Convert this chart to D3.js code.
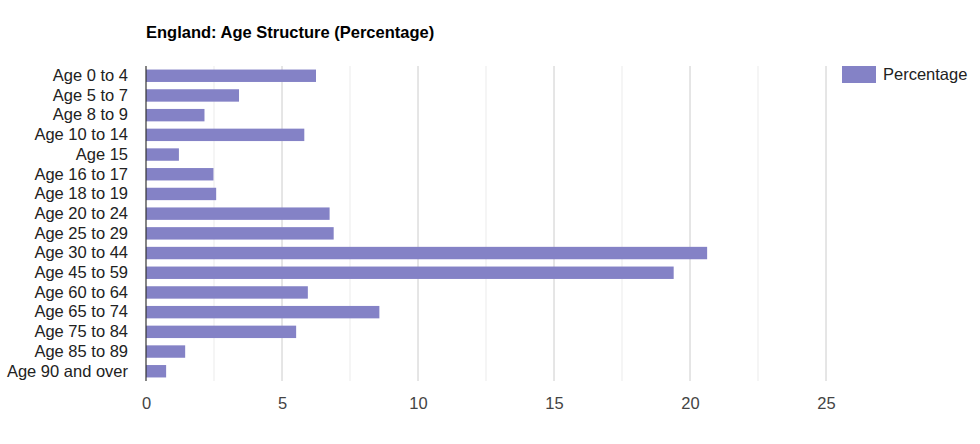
<!DOCTYPE html>
<html>
<head>
<meta charset="utf-8">
<script src="https://cdn.jsdelivr.net/npm/d3@7"></script>
<style>
  body { margin: 0; background: #fff; }
  text { font-family: "Liberation Sans", Arial, sans-serif; }
</style>
</head>
<body>
<div class="chart"></div>
<script>
var categories = ["Age 0 to 4", "Age 5 to 7", "Age 8 to 9", "Age 10 to 14", "Age 15",
  "Age 16 to 17", "Age 18 to 19", "Age 20 to 24", "Age 25 to 29", "Age 30 to 44",
  "Age 45 to 59", "Age 60 to 64", "Age 65 to 74", "Age 75 to 84", "Age 85 to 89",
  "Age 90 and over"];
var percentage = [6.25, 3.42, 2.15, 5.82, 1.21, 2.48, 2.58, 6.75, 6.9, 20.63,
  19.4, 5.95, 8.58, 5.52, 1.44, 0.74];
var ticks = [0, 5, 10, 15, 20, 25];
var minorTicks = [2.5, 7.5, 12.5, 17.5, 22.5];

var w = 980, h = 444;
var mLeft = 146, mRight = 826, mTop = 66, mBottom = 381;
var fs = 16.5;

var svg = d3.select(".chart").append("svg")
  .attr("width", w)
  .attr("height", h);

var x = d3.scaleLinear().domain([0, 25]).range([mLeft, mRight]);
var y = d3.scaleBand().domain(categories).range([mTop, mBottom]).paddingInner(0.37).paddingOuter(0.18);

// title
svg.append("text")
  .attr("x", mLeft)
  .attr("y", 38)
  .attr("font-size", fs)
  .attr("font-weight", "bold")
  .attr("fill", "#000")
  .text("England: Age Structure (Percentage)");

// gridlines
svg.selectAll(".minor").data(minorTicks).enter().append("line")
  .attr("x1", function(d) { return x(d); })
  .attr("x2", function(d) { return x(d); })
  .attr("y1", mTop).attr("y2", mBottom)
  .attr("stroke", "#ebebeb").attr("stroke-width", 1);

svg.selectAll(".major").data(ticks.slice(1)).enter().append("line")
  .attr("x1", function(d) { return x(d); })
  .attr("x2", function(d) { return x(d); })
  .attr("y1", mTop).attr("y2", mBottom)
  .attr("stroke", "#cccccc").attr("stroke-width", 1);

// bars
svg.selectAll("rect.bar").data(percentage).enter().append("rect")
  .attr("class", "bar")
  .attr("x", x(0))
  .attr("y", function(d, i) { return y(categories[i]); })
  .attr("width", function(d) { return x(d) - x(0); })
  .attr("height", y.bandwidth())
  .attr("fill", "#8482c6");

// baseline
svg.append("line")
  .attr("x1", x(0)).attr("x2", x(0))
  .attr("y1", mTop).attr("y2", mBottom)
  .attr("stroke", "#333").attr("stroke-width", 1.2);

// x axis labels
var xAxis = d3.axisBottom(x).tickValues(ticks).tickSize(0).tickPadding(0);
var gx = svg.append("g").attr("transform", "translate(0," + 397 + ")").call(xAxis);
gx.select(".domain").remove();
gx.selectAll("text")
  .attr("font-size", fs)
  .attr("font-family", "'Liberation Sans', Arial, sans-serif")
  .attr("fill", "#444")
  .attr("dy", "0.71em");

// y axis labels
var yAxis = d3.axisLeft(y).tickSize(0).tickPadding(18);
var gy = svg.append("g").attr("transform", "translate(" + mLeft + ",0)").call(yAxis);
gy.select(".domain").remove();
gy.selectAll("text")
  .attr("font-size", fs)
  .attr("font-family", "'Liberation Sans', Arial, sans-serif")
  .attr("fill", "#222");

// legend
svg.append("rect")
  .attr("x", 842).attr("y", 66)
  .attr("width", 34).attr("height", 17)
  .attr("fill", "#8482c6");
svg.append("text")
  .attr("x", 883).attr("y", 80)
  .attr("font-size", fs)
  .attr("fill", "#222")
  .text("Percentage");
</script>
</body>
</html>
